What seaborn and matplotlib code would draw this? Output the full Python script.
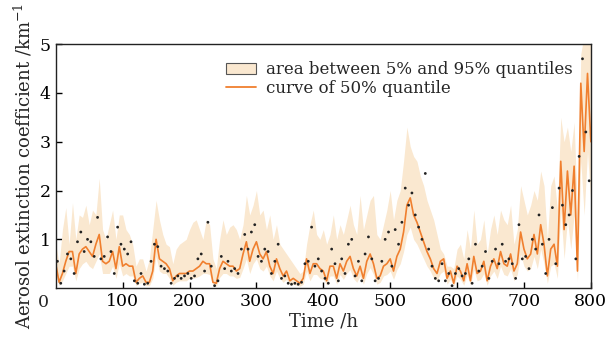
import numpy as np
import pandas as pd
import matplotlib.pyplot as plt
import matplotlib.transforms as mtransforms
from matplotlib.patches import Patch
from matplotlib.lines import Line2D
import seaborn as sns

# time grid (h) for the quantile curves
hours = list(range(0, 805, 5))

# 50% quantile
q50 = [0.5, 0.12, 0.3, 0.55, 0.75, 0.75, 0.3, 0.7, 0.8, 0.85,
       0.75, 0.65, 0.9, 1.1, 0.55, 0.5, 0.55, 0.75, 0.4, 0.85,
       0.45, 0.5, 0.45, 0.45, 0.12, 0.2, 0.25, 0.12, 0.12, 0.35,
       1.0, 0.6, 0.55, 0.5, 0.4, 0.15, 0.25, 0.3, 0.3, 0.3,
       0.35, 0.35, 0.4, 0.45, 0.55, 0.5, 0.5, 0.12, 0.1, 0.4,
       0.55, 0.5, 0.45, 0.45, 0.35, 0.4, 0.7, 0.95, 0.55, 0.8,
       0.95, 0.7, 0.6, 0.75, 0.45, 0.3, 0.6, 0.4, 0.25, 0.35,
       0.15, 0.2, 0.15, 0.1, 0.2, 0.6, 0.3, 0.5, 0.5, 0.4,
       0.35, 0.15, 0.45, 0.45, 0.2, 0.5, 0.35, 0.55, 0.65, 0.4,
       0.25, 0.45, 0.2, 0.55, 0.7, 0.5, 0.2, 0.25, 0.45, 0.5,
       0.6, 0.35, 0.65, 0.8, 1.15, 1.7, 1.85, 1.5, 1.35, 1.15,
       0.95, 0.75, 0.6, 0.4, 0.3, 0.55, 0.6, 0.2, 0.35, 0.1,
       0.45, 0.35, 0.15, 0.5, 0.15, 0.65, 0.3, 0.35, 0.55, 0.15,
       0.45, 0.6, 0.4, 0.75, 0.5, 0.45, 0.7, 0.35, 0.5, 1.15,
       0.8, 0.6, 0.7, 1.1, 0.7, 1.3, 0.9, 0.25, 0.8, 0.9,
       0.45, 2.6, 1.2, 2.4, 1.5, 2.5, 0.35, 4.2, 2.8, 4.4,
       3.0]

# 5% quantile
q05 = [0.3, 0.05, 0.15, 0.3, 0.45, 0.45, 0.15, 0.4, 0.5, 0.55,
       0.45, 0.4, 0.55, 0.7, 0.3, 0.3, 0.3, 0.45, 0.2, 0.5,
       0.25, 0.3, 0.25, 0.25, 0.05, 0.1, 0.12, 0.05, 0.05, 0.2,
       0.65, 0.35, 0.3, 0.3, 0.2, 0.06, 0.12, 0.15, 0.15, 0.15,
       0.2, 0.2, 0.22, 0.25, 0.3, 0.3, 0.28, 0.05, 0.04, 0.22,
       0.3, 0.3, 0.25, 0.25, 0.2, 0.22, 0.4, 0.6, 0.3, 0.5,
       0.6, 0.4, 0.35, 0.45, 0.25, 0.15, 0.35, 0.2, 0.12, 0.18,
       0.06, 0.08, 0.06, 0.04, 0.08, 0.35, 0.15, 0.28, 0.28, 0.2,
       0.18, 0.06, 0.25, 0.25, 0.08, 0.28, 0.18, 0.3, 0.38, 0.2,
       0.12, 0.25, 0.08, 0.3, 0.42, 0.28, 0.08, 0.12, 0.25, 0.28,
       0.35, 0.18, 0.38, 0.5, 0.75, 1.1, 1.25, 1.0, 0.9, 0.75,
       0.6, 0.45, 0.35, 0.2, 0.15, 0.3, 0.35, 0.08, 0.18, 0.04,
       0.25, 0.18, 0.06, 0.28, 0.06, 0.38, 0.15, 0.18, 0.3, 0.06,
       0.25, 0.35, 0.2, 0.45, 0.28, 0.25, 0.4, 0.15, 0.28, 0.7,
       0.45, 0.35, 0.4, 0.65, 0.4, 0.8, 0.5, 0.1, 0.45, 0.5,
       0.2, 1.6, 0.6, 1.4, 0.8, 1.5, 0.15, 2.6, 1.5, 2.8,
       1.7]

# 95% quantile
q95 = [0.9, 0.5, 1.2, 1.65, 0.9, 1.75, 1.0, 1.5, 1.45, 1.7,
       1.3, 1.6, 1.5, 2.25, 1.2, 1.0, 1.3, 1.6, 1.0, 1.5,
       1.5, 1.2, 1.1, 0.9, 0.45, 0.6, 0.6, 0.35, 0.6, 1.2,
       1.8, 1.4, 1.1, 0.9, 0.85, 0.5, 0.8, 0.9, 0.95, 1.0,
       1.2, 1.35, 1.4, 1.2, 1.0, 1.4, 1.3, 0.6, 0.4, 1.0,
       1.4, 1.1, 1.25, 1.3, 1.2, 1.0, 1.3, 1.9, 1.5, 1.7,
       2.0, 1.5, 1.6, 1.2, 1.5, 1.0, 1.3, 0.9, 0.8, 0.7,
       0.6, 0.5, 0.4, 0.3, 0.35, 0.9, 1.3, 1.6, 1.1, 1.0,
       1.2, 0.9, 1.1, 1.5, 1.0, 1.3, 1.1, 1.4, 1.7, 1.3,
       1.1, 1.9, 1.2, 1.5, 1.8, 1.9, 1.1, 1.0, 1.3, 1.6,
       2.0, 1.4, 1.8, 2.0, 2.6, 3.3, 2.9, 2.7, 2.6, 2.3,
       2.1, 1.8, 1.6, 1.4, 1.1, 0.8, 0.7, 0.45, 0.45, 0.4,
       0.8, 0.9, 0.6, 1.2, 0.8, 1.6, 0.9, 1.0, 1.4, 0.7,
       1.2, 1.5, 1.1, 1.6, 1.4, 1.3, 1.7, 0.9, 1.2, 2.1,
       1.8, 1.5, 1.7, 2.0, 1.8, 2.4, 2.1, 1.0, 2.1, 2.3,
       1.6, 3.5, 3.0, 3.3, 2.8, 3.4, 1.5, 4.8, 5.2, 5.2,
       5.2]

# measured points
dot_hours = [h + 2.5 for h in range(0, 800, 5)]
dot_vals = [0.55, 0.1, 0.35, 0.7, 0.6, 0.3, 0.95, 1.15, 0.75, 1.0,
            0.95, 0.65, 1.45, 0.6, 0.65, 1.05, 0.75, 0.3, 1.25, 0.9,
            0.8, 0.7, 0.95, 0.15, 0.1, 0.3, 0.08, 0.1, 0.55, 0.9,
            0.85, 0.45, 0.4, 0.35, 0.1, 0.2, 0.25, 0.2, 0.25, 0.3,
            0.2, 0.25, 0.6, 0.7, 0.35, 1.35, 0.45, 0.05, 0.15, 0.65,
            0.4, 0.55, 0.35, 0.4, 0.3, 0.8, 1.1, 0.8, 1.15, 1.3,
            0.65, 0.55, 0.8, 0.75, 0.3, 0.55, 0.9, 0.2, 0.25, 0.1,
            0.08, 0.1, 0.08, 0.12, 0.5, 0.55, 1.25, 0.45, 0.6, 0.35,
            0.2, 0.1, 0.8, 0.5, 0.15, 0.6, 0.3, 0.9, 1.0, 0.25,
            0.55, 0.15, 0.7, 1.05, 0.6, 0.15, 0.2, 0.55, 1.0, 1.15,
            0.45, 1.2, 0.9, 1.35, 2.05, 1.7, 1.95, 1.5, 1.25, 1.0,
            2.35, 0.8, 0.45, 0.2, 0.15, 0.5, 0.15, 0.3, 0.05, 0.3,
            0.4, 0.25, 0.3, 0.6, 0.1, 0.9, 0.35, 0.45, 0.75, 0.2,
            0.55, 0.8, 0.5, 0.9, 0.55, 0.6, 0.5, 0.2, 1.3, 0.6,
            0.65, 0.4, 1.0, 0.8, 1.5, 0.9, 0.3, 1.0, 1.65, 0.5,
            2.05, 1.7, 1.3, 1.5, 2.0, 0.6, 2.7, 4.7, 3.2, 2.2]

df = pd.DataFrame({'hour': hours, 'q05': q05, 'q50': q50, 'q95': q95})
dots = pd.DataFrame({'hour': dot_hours, 'value': dot_vals})

sns.set_style('white')
plt.rcParams['font.family'] = ['DejaVu Serif']
plt.rcParams['mathtext.fontset'] = 'dejavuserif'

band_color = '#fae8d0'
line_color = '#f07f2e'

fig = plt.figure(figsize=(6.06, 3.37), dpi=100)
ax = fig.add_axes([0.092, 0.145, 0.883, 0.724])

ax.fill_between(df['hour'], df['q05'], df['q95'], color=band_color, lw=0)
sns.lineplot(data=df, x='hour', y='q50', ax=ax, color=line_color, lw=1.2)
sns.scatterplot(data=dots, x='hour', y='value', ax=ax, color='#222222',
                s=4, edgecolor='none', zorder=3)

ax.set_xlim(0, 800)
ax.set_ylim(0, 5)
ax.set_xticks(range(100, 801, 100))
ax.set_yticks([1, 2, 3, 4, 5])
ax.tick_params(direction='in', length=4, width=1, labelsize=12.5, colors='black',
               bottom=True, left=True, top=False, right=False)
for s in ax.spines.values():
    s.set_color('#222222')
    s.set_linewidth(1.0)

# shared origin label
off = mtransforms.offset_copy(ax.transAxes, fig=fig, x=-12, y=-6, units='dots')
ax.text(0, 0, '0', transform=off, ha='center', va='top', fontsize=12.5)

ax.set_xlabel('Time /h', fontsize=13, labelpad=2)
ax.set_ylabel('Aerosol extinction coefficient /km$^{-1}$', fontsize=13, labelpad=4)

handles = [Patch(facecolor=band_color, edgecolor='#555555', lw=0.8),
           Line2D([0], [0], color=line_color, lw=1.3)]
ax.legend(handles, ['area between 5% and 95% quantiles', 'curve of 50% quantile'],
          loc='upper right', bbox_to_anchor=(0.985, 0.97), frameon=False,
          fontsize=12, handlelength=1.8, handletextpad=0.6, labelspacing=0.1,
          borderaxespad=0.2)

fig.savefig('out.png', dpi=100)
